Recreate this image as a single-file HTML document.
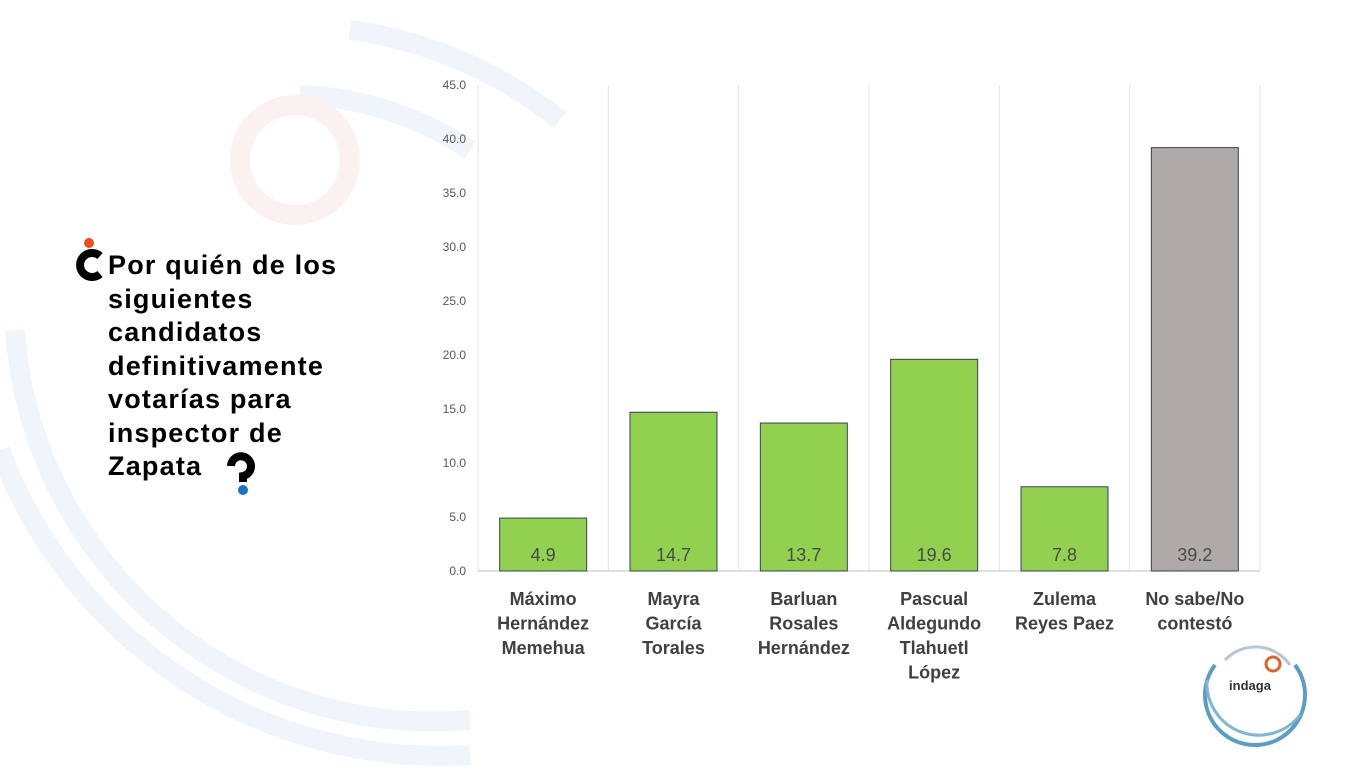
<!DOCTYPE html>
<html><head><meta charset="utf-8"><style>
body{margin:0;width:1366px;height:768px;overflow:hidden;background:#fff;font-family:"Liberation Sans",sans-serif;position:relative}
.title{position:absolute;left:108px;top:249px;font-size:27px;font-weight:bold;line-height:33.5px;color:#000;letter-spacing:1.2px}
</style></head><body>
<svg width="1366" height="768" style="position:absolute;left:0;top:0">
<g fill="none" stroke="#eff5fa" stroke-width="20">
<path d="M350 30 A430 430 0 0 1 560 120"/>
<path d="M300 95 A330 330 0 0 1 470 150"/>
<path d="M15 330 A420 420 0 0 0 470 720"/>
<path d="M0 450 A470 470 0 0 0 470 755"/>
</g>
<circle cx="295" cy="160" r="55" fill="none" stroke="#fcf1f1" stroke-width="20"/>
</svg>
<div class="title">Por quién de los<br>siguientes<br>candidatos<br>definitivamente<br>votarías para<br>inspector de<br>Zapata</div>
<svg width="1366" height="768" style="position:absolute;left:0;top:0" id="chart">
<circle cx="89" cy="243" r="5" fill="#f04b1c"/>
<path d="M100 256 A12 12 0 1 0 100 274" fill="none" stroke="#000" stroke-width="8"/>
<path d="M231 466 A10 10 0 1 1 243 476 L243 482" fill="none" stroke="#000" stroke-width="8"/>
<circle cx="243" cy="490" r="5" fill="#1a73c4"/>
<g transform="translate(1255,695)">
<path d="M-40 -30 A50 50 0 1 0 40 -30" fill="none" stroke="#5a9ec8" stroke-width="4"/>
<path d="M-48 -15 A52 52 0 0 0 45 20" fill="none" stroke="#7eb6d6" stroke-width="3"/>
<path d="M-30 -35 A42 42 0 0 1 35 -30" fill="none" stroke="#b8c6d4" stroke-width="3"/>
<circle cx="18" cy="-31" r="7" fill="none" stroke="#e0632a" stroke-width="3"/>
<text x="-5" y="-5" text-anchor="middle" font-size="13" font-weight="bold" fill="#333">indaga</text>
</g>
</svg>
<script>
const categories=[["Máximo","Hernández","Memehua"],["Mayra","García","Torales"],["Barluan","Rosales","Hernández"],["Pascual","Aldegundo","Tlahuetl","López"],["Zulema","Reyes Paez"],["No sabe/No","contestó"]];
const values=[4.9,14.7,13.7,19.6,7.8,39.2];
const colors=["#92d050","#92d050","#92d050","#92d050","#92d050","#aeaaaa"];
const ticks=[0,5,10,15,20,25,30,35,40,45];
const NS="http://www.w3.org/2000/svg";
const svg=document.getElementById('chart');
const x0=478,x1=1260,y0=571,yTop=85,ymax=45;
const band=(x1-x0)/categories.length;
function yPx(v){return y0-(v/ymax)*(y0-yTop);}
function xPx(i){return x0+band*i;}
function mk(tag,attrs){const e=document.createElementNS(NS,tag);for(const k in attrs)e.setAttribute(k,attrs[k]);svg.appendChild(e);return e;}
for(let i=0;i<=categories.length;i++){
const g=mk('line',{x1:xPx(i),x2:xPx(i),y1:yTop,y2:y0,stroke:'#e4e4e4','stroke-width':1});


}
ticks.forEach(t=>{
const tx=mk('text',{x:466,y:yPx(t)+4,'text-anchor':'end','font-size':12,fill:'#595959'});
tx.textContent=t.toFixed(1);


});
const ax=mk('line',{x1:x0,x2:x1,y1:y0,y2:y0,stroke:'#bfbfbf','stroke-width':1});


values.forEach((v,i)=>{
const bw=87,cx=xPx(i)+band/2;
const r=mk('rect',{x:cx-bw/2,y:yPx(v),width:bw,height:y0-yPx(v),fill:colors[i],stroke:'#3b3f55','stroke-width':1});


const t=mk('text',{x:cx,y:561,'text-anchor':'middle','font-size':18,fill:'#4a4a4a'});
t.textContent=v.toFixed(1);


categories[i].forEach((ln,j)=>{
const c=mk('text',{x:cx,y:605+j*24.5,'text-anchor':'middle','font-size':18,'font-weight':'bold',fill:'#404040'});
c.textContent=ln;


});
});
</script>
</body></html>
